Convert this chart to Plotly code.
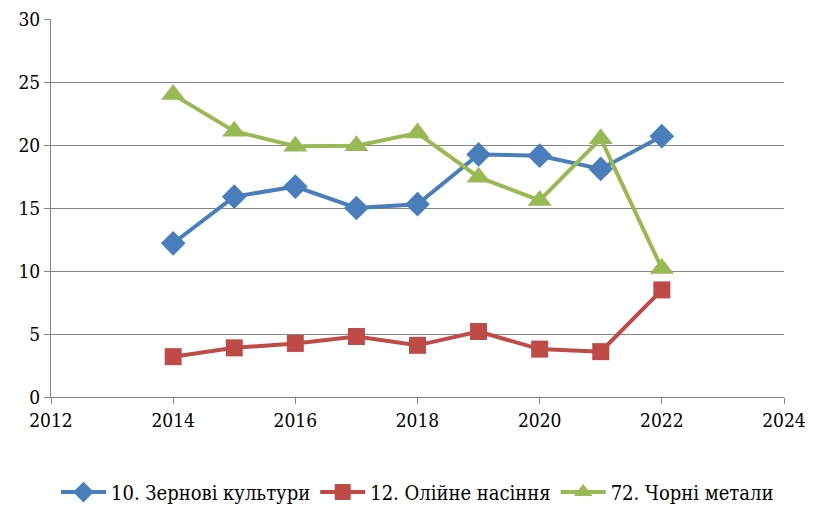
import plotly.graph_objects as go

years = [2014, 2015, 2016, 2017, 2018, 2019, 2020, 2021, 2022]
grain = [12.2, 15.9, 16.7, 15.0, 15.3, 19.25, 19.15, 18.1, 20.7]
oilseed = [3.2, 3.9, 4.25, 4.8, 4.1, 5.2, 3.8, 3.6, 8.5]
ferrous = [24.0, 21.1, 19.9, 19.95, 20.95, 17.45, 15.6, 20.5, 10.2]
names = ["10. Зернові культури", "12. Олійне насіння", "72. Чорні метали"]
colors = ["#4a7ebb", "#be4b48", "#98b954"]
symbols = ["diamond", "square", "triangle-up"]

FAM = "DejaVu Serif Condensed, DejaVu Serif, serif"

fig = go.Figure()
for vals, nm, c, s, sz in zip([grain, oilseed, ferrous], names, colors, symbols, [19, 17, 21]):
    fig.add_trace(go.Scatter(x=years, y=vals, name=nm, mode="lines+markers",
                             line=dict(color=c, width=4),
                             marker=dict(symbol=s, size=sz, color=c)))

fig.update_layout(
    width=817, height=510, paper_bgcolor="white", plot_bgcolor="white",
    margin=dict(l=43, r=41, t=11, b=121, autoexpand=False),
    font=dict(family=FAM, size=19, color="#000"), showlegend=True,
    legend=dict(orientation="h", x=0.5, xanchor="center", y=-0.2, yanchor="top",
                font=dict(family=FAM, size=20), itemwidth=45, tracegroupgap=0),
    xaxis=dict(range=[2012, 2024], tickvals=[2012, 2014, 2016, 2018, 2020, 2022, 2024],
               tickfont=dict(family=FAM, size=19),
               showgrid=False, showline=True, linecolor="#868686", linewidth=1,
               ticks="outside", tickcolor="#868686", ticklen=6, zeroline=False,
               ticklabeloverflow="allow"),
    yaxis=dict(range=[0, 30], dtick=5, showgrid=True, gridcolor="#868686", gridwidth=1,
               tickfont=dict(family=FAM, size=19),
               showline=True, linecolor="#868686", ticks="outside", tickcolor="#868686",
               ticklen=6, zeroline=False, ticklabeloverflow="allow"),
)
fig.write_html("out.html")
